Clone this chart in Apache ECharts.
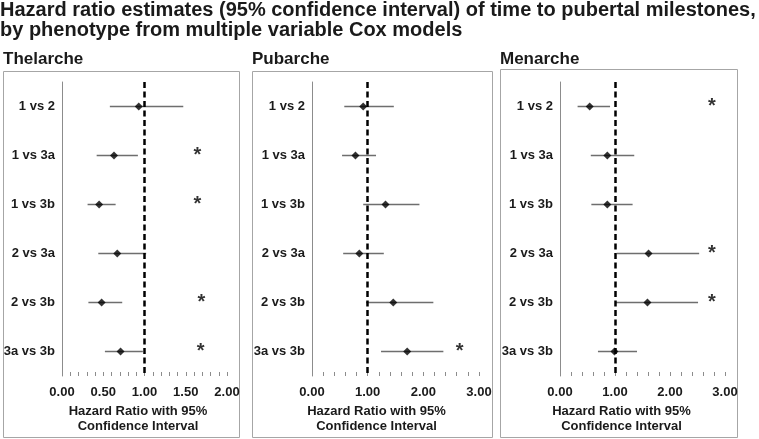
<!DOCTYPE html>
<html>
<head>
<meta charset="utf-8">
<script src="https://cdn.jsdelivr.net/npm/echarts@6/dist/echarts.min.js"></script>
<style>
  html, body { margin: 0; padding: 0; background: #fff; }
  #chart { width: 759px; height: 439px; }
</style>
</head>
<body>
<div id="chart"></div>
<script>
// 比较组
const categories = ['1 vs 2', '1 vs 3a', '1 vs 3b', '2 vs 3a', '2 vs 3b', '3a vs 3b'];

// Thelarche
const thelarcheHR = [0.93, 0.63, 0.45, 0.67, 0.48, 0.71];
const thelarcheLow = [0.58, 0.42, 0.31, 0.44, 0.32, 0.52];
const thelarcheHigh = [1.47, 0.92, 0.65, 1.02, 0.73, 0.98];
const thelarcheStar = [null, 1.64, 1.64, null, 1.69, 1.68];

// Pubarche
const pubarcheHR = [0.92, 0.78, 1.32, 0.85, 1.46, 1.71];
const pubarcheLow = [0.58, 0.54, 0.92, 0.56, 0.97, 1.24];
const pubarcheHigh = [1.47, 1.15, 1.93, 1.29, 2.18, 2.36];
const pubarcheStar = [null, null, null, null, null, 2.65];

// Menarche
const menarcheHR = [0.54, 0.86, 0.86, 1.61, 1.59, 0.99];
const menarcheLow = [0.32, 0.56, 0.57, 1.03, 1.01, 0.69];
const menarcheHigh = [0.91, 1.35, 1.32, 2.53, 2.51, 1.40];
const menarcheStar = [2.76, null, null, 2.76, 2.76, null];

const xTicksThelarche = { max: 2, interval: 0.5 };
const xTicksOther = { max: 3, interval: 1 };

const textColor = '#1a1a1a';
const axisGrey = '#8c8c8c';

const panels = [
  { name: 'Thelarche', hr: thelarcheHR, low: thelarcheLow, high: thelarcheHigh, star: thelarcheStar,
    ticks: xTicksThelarche, grid: { left: 62, top: 82, width: 165, height: 294 }, box: [3, 71, 236, 366], namePad: 13 },
  { name: 'Pubarche', hr: pubarcheHR, low: pubarcheLow, high: pubarcheHigh, star: pubarcheStar,
    ticks: xTicksOther, grid: { left: 312, top: 82, width: 167, height: 294 }, box: [252, 71, 240, 366], namePad: 38 },
  { name: 'Menarche', hr: menarcheHR, low: menarcheLow, high: menarcheHigh, star: menarcheStar,
    ticks: xTicksOther, grid: { left: 560, top: 82, width: 165, height: 294 }, box: [500, 69, 237, 368], namePad: 42 }
];

const chart = echarts.init(document.getElementById('chart'));

const option = {
  animation: false,
  backgroundColor: '#fff',
  textStyle: { fontFamily: 'Liberation Sans, Arial, sans-serif' },
  title: [
    {
      text: 'Hazard ratio estimates (95% confidence interval) of time to pubertal milestones,\nby phenotype from multiple variable Cox models',
      left: 0, top: 0, padding: 0,
      textStyle: { fontSize: 20, fontWeight: 'bold', color: textColor, lineHeight: 20, fontFamily: 'Liberation Sans' }
    }
  ].concat(panels.map(p => ({
    text: p.name,
    left: p.box[0], top: 51, padding: 0,
    textStyle: { fontSize: 17, fontWeight: 'bold', color: textColor, fontFamily: 'Liberation Sans' }
  }))),
  graphic: panels.map(p => ({
    type: 'rect',
    shape: { x: p.box[0] + 0.5, y: p.box[1] + 0.5, width: p.box[2], height: p.box[3] },
    style: { fill: 'none', stroke: '#a6a6a6', lineWidth: 1 },
    z: -1
  })),
  grid: panels.map(p => p.grid),
  xAxis: panels.map((p, i) => ({
    type: 'value',
    gridIndex: i,
    min: 0,
    max: p.ticks.max,
    interval: p.ticks.interval,
    name: 'Hazard Ratio with 95%\nConfidence Interval',
    nameLocation: 'middle',
    nameGap: 21,
    nameTextStyle: {
      fontSize: 13, fontWeight: 'bold', color: textColor, lineHeight: 15,
      verticalAlign: 'top', padding: [0, p.namePad, 0, 0]
    },
    axisLine: { lineStyle: { color: axisGrey, width: 1 } },
    axisTick: { show: true, inside: true, length: 4, lineStyle: { color: axisGrey } },
    minorTick: { show: true, splitNumber: 5, length: 4, lineStyle: { color: axisGrey } },
    splitLine: { show: false },
    axisLabel: {
      fontSize: 13, fontWeight: 'bold', color: textColor, margin: 10,
      formatter: v => v.toFixed(2)
    }
  })),
  yAxis: panels.map((p, i) => ({
    type: 'category',
    gridIndex: i,
    data: categories,
    inverse: true,
    axisLine: { lineStyle: { color: axisGrey, width: 1 } },
    axisTick: { show: false },
    axisLabel: { fontSize: 13, fontWeight: 'bold', color: textColor, margin: 7 }
  })),
  series: []
};

panels.forEach((p, i) => {
  // 置信区间
  option.series.push({
    type: 'custom',
    xAxisIndex: i,
    yAxisIndex: i,
    data: categories.map((c, k) => [p.low[k], p.high[k], k]),
    renderItem: (params, api) => {
      const a = api.coord([api.value(0), api.value(2)]);
      const b = api.coord([api.value(1), api.value(2)]);
      return {
        type: 'line',
        shape: { x1: a[0], y1: a[1], x2: b[0], y2: b[1] },
        style: { stroke: '#6e6e6e', lineWidth: 1.5 }
      };
    },
    z: 2
  });
  // 点估计 + 参考线
  option.series.push({
    type: 'scatter',
    xAxisIndex: i,
    yAxisIndex: i,
    symbol: 'diamond',
    symbolSize: 8,
    itemStyle: { color: '#000' },
    data: categories.map((c, k) => [p.hr[k], k]),
    markLine: {
      silent: true,
      symbol: 'none',
      label: { show: false },
      lineStyle: { color: '#000', width: 2.5, type: [6, 3.5] },
      data: [{ xAxis: 1 }]
    },
    z: 3
  });
  // 显著性标记
  option.series.push({
    type: 'scatter',
    xAxisIndex: i,
    yAxisIndex: i,
    symbolSize: 0,
    data: categories.map((c, k) => [p.star[k], k]).filter(d => d[0] !== null),
    label: {
      show: true,
      formatter: '*',
      position: 'inside',
      offset: [0, 0],
      fontSize: 20,
      fontWeight: 'bold',
      color: '#000'
    }
  });
});

chart.setOption(option);
</script>
</body>
</html>
